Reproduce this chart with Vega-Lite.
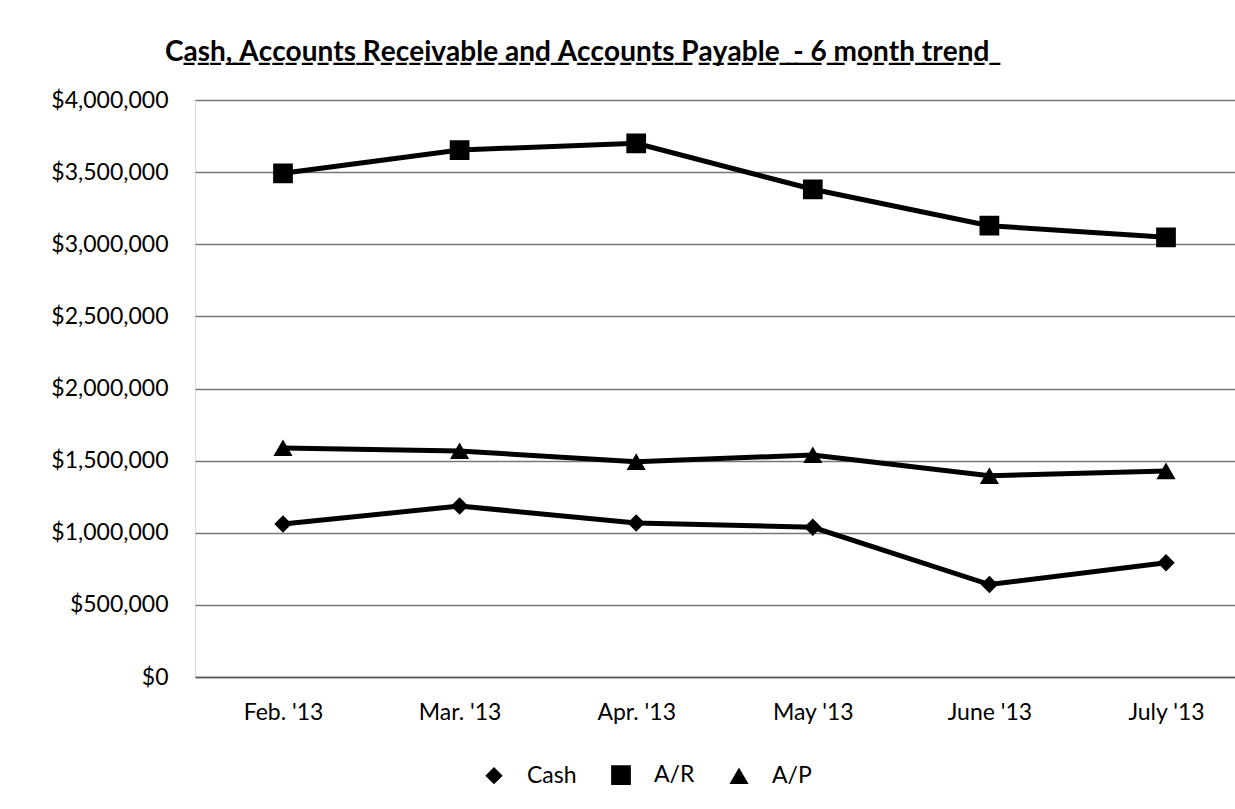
{
  "$schema": "https://vega.github.io/schema/vega-lite/v6.json",
  "width": 1040,
  "height": 577,
  "autosize": "none",
  "padding": {"left": 195, "top": 100, "right": 0, "bottom": 132},
  "background": "white",
  "title": {
    "text": "C̲a̲s̲h̲,̲ ̲A̲c̲c̲o̲u̲n̲t̲s̲ ̲R̲e̲c̲e̲i̲v̲a̲b̲l̲e̲ ̲a̲n̲d̲ ̲A̲c̲c̲o̲u̲n̲t̲s̲ ̲P̲a̲y̲a̲b̲l̲e̲ ̲ ̲-̲ ̲6̲ ̲m̲o̲n̲t̲h̲ ̲t̲r̲e̲n̲d̲",
    "anchor": "start",
    "frame": "group",
    "dx": -30,
    "offset": 22,
    "font": "Lato",
    "fontSize": 28,
    "fontWeight": "bold",
    "color": "black"
  },
  "data": {
    "values": [
      {"month": "Feb. '13", "series": "Cash", "value": 1061000},
      {"month": "Mar. '13", "series": "Cash", "value": 1185000},
      {"month": "Apr. '13", "series": "Cash", "value": 1068000},
      {"month": "May '13", "series": "Cash", "value": 1038000},
      {"month": "June '13", "series": "Cash", "value": 641000},
      {"month": "July '13", "series": "Cash", "value": 792000},
      {"month": "Feb. '13", "series": "A/R", "value": 3492000},
      {"month": "Mar. '13", "series": "A/R", "value": 3653000},
      {"month": "Apr. '13", "series": "A/R", "value": 3700000},
      {"month": "May '13", "series": "A/R", "value": 3381000},
      {"month": "June '13", "series": "A/R", "value": 3129000},
      {"month": "July '13", "series": "A/R", "value": 3048000},
      {"month": "Feb. '13", "series": "A/P", "value": 1588000},
      {"month": "Mar. '13", "series": "A/P", "value": 1567000},
      {"month": "Apr. '13", "series": "A/P", "value": 1492000},
      {"month": "May '13", "series": "A/P", "value": 1539000},
      {"month": "June '13", "series": "A/P", "value": 1395000},
      {"month": "July '13", "series": "A/P", "value": 1428000}
    ]
  },
  "encoding": {
    "x": {
      "field": "month",
      "type": "ordinal",
      "sort": ["Feb. '13", "Mar. '13", "Apr. '13", "May '13", "June '13", "July '13"],
      "scale": {"type": "point", "padding": 0.4445, "align": 0.5605},
      "axis": {
        "title": null,
        "labelAngle": 0,
        "ticks": false,
        "domain": true,
        "domainColor": "#555555",
        "domainWidth": 1.5,
        "grid": false,
        "labelPadding": 24,
        "labelFont": "Lato",
        "labelFontSize": 23,
        "labelColor": "black"
      }
    },
    "y": {
      "field": "value",
      "type": "quantitative",
      "scale": {"domain": [0, 4000000], "nice": false},
      "axis": {
        "title": null,
        "values": [0, 500000, 1000000, 1500000, 2000000, 2500000, 3000000, 3500000, 4000000],
        "format": "$,.0f",
        "ticks": false,
        "domain": false,
        "grid": true,
        "gridColor": "#777777",
        "gridWidth": 1.5,
        "labelPadding": 27,
        "labelFont": "Lato",
        "labelFontSize": 23,
        "labelColor": "black"
      }
    }
  },
  "layer": [
    {
      "mark": {"type": "line", "color": "black", "strokeWidth": 5},
      "encoding": {
        "detail": {"field": "series", "type": "nominal"}
      }
    },
    {
      "mark": {"type": "point", "filled": true, "fill": "black", "strokeOpacity": 0, "strokeWidth": 0, "opacity": 1, "size": 3364},
      "encoding": {
        "shape": {
          "field": "series",
          "type": "nominal",
          "scale": {
            "domain": ["Cash", "A/R", "A/P"],
            "range": [
              "M-1,0H1M0,-0.3L0.3,0L0,0.3L-0.3,0Z",
              "M-1,0H1M-0.34,-0.34H0.34V0.34H-0.34Z",
              "M-1,0H1M0,-0.29L0.33,0.28H-0.33Z"
            ]
          },
          "legend": {
            "orient": "none",
            "legendX": 268,
            "legendY": 644,
            "direction": "horizontal",
            "title": null,
            "labelFont": "Lato",
            "labelFontSize": 23,
            "labelColor": "black",
            "labelOffset": 2,
            "columnPadding": 7,
            "symbolSize": 3364,
            "symbolFillColor": "black",
            "symbolStrokeColor": "black",
            "symbolStrokeWidth": 4,
            "symbolOpacity": 1,
            "encode": {
              "symbols": {
                "stroke": {"value": "black"},
                "strokeWidth": {"value": 4},
                "strokeOpacity": {"value": 1},
                "fill": {"value": "black"},
                "fillOpacity": {"value": 1}
              }
            }
          }
        }
      }
    }
  ]
}
